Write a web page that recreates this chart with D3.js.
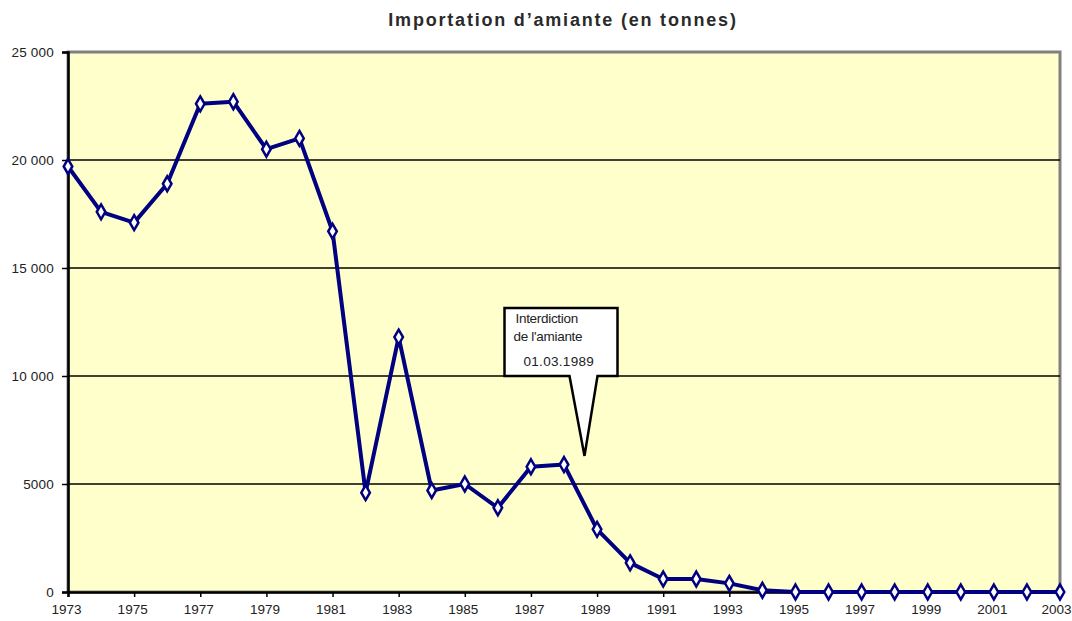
<!DOCTYPE html>
<html>
<head>
    <meta charset="utf-8" />
    <title>Importation d'amiante</title>
    <style>
        body { margin: 0; background: #fff; }
        text { font-family: "Liberation Sans", Arial, sans-serif; }
    </style>
</head>
<body>
    <div id="chart"></div>
    <script src="https://cdn.jsdelivr.net/npm/d3@7/dist/d3.min.js"></script>
    <script>
        // data
        var years = [1973, 1974, 1975, 1976, 1977, 1978, 1979, 1980, 1981, 1982,
            1983, 1984, 1985, 1986, 1987, 1988, 1989, 1990, 1991, 1992,
            1993, 1994, 1995, 1996, 1997, 1998, 1999, 2000, 2001, 2002, 2003];
        var tonnes = [19700, 17600, 17100, 18900, 22600, 22700, 20500, 21000, 16700, 4600,
            11800, 4700, 5000, 3900, 5800, 5900, 2900, 1350, 600, 600,
            400, 80, 0, 0, 0, 0, 0, 0, 0, 0, 0];
        var yTicks = [0, 5000, 10000, 15000, 20000, 25000];
        var yTickLabels = ["0", "5000", "10 000", "15 000", "20 000", "25 000"];
        var xTickYears = d3.range(1973, 2004, 2);
        var titleText = "Importation d\u2019amiante (en tonnes)";
        var noteLines = ["Interdiction", "de l'amiante", "01.03.1989"];
        var noteAt = { year: 1988.62, value: 6300, boxValue: 10000 };

        var W = 1072, H = 621;
        var margins = { left: 68, right: 12, top: 52, bottom: 29 };
        var width = W - margins.left - margins.right;
        var height = H - margins.top - margins.bottom;

        var svg = d3.select("#chart").append("svg")
            .attr("width", W).attr("height", H);

        svg.append("text")
            .attr("x", 563).attr("y", 26)
            .attr("text-anchor", "middle")
            .style("font-size", "18px")
            .style("font-weight", "bold")
            .style("letter-spacing", "1.8px")
            .attr("fill", "#2a2a2a")
            .text(titleText);

        var g = svg.append("g")
            .attr("transform", "translate(" + margins.left + "," + margins.top + ")");

        var x = d3.scaleLinear().domain([1973, 2003]).range([0, width]);
        var y = d3.scaleLinear().domain([0, 25000]).range([height, 0]);

        // plot area
        g.append("rect")
            .attr("width", width).attr("height", height)
            .attr("fill", "#FFFFCC")
            .attr("stroke", "#808080").attr("stroke-width", 3);

        // gridlines
        g.selectAll(".grid")
            .data(yTicks.slice(1, -1))
            .join("line")
            .attr("class", "grid")
            .attr("x1", 0).attr("x2", width)
            .attr("y1", d => y(d)).attr("y2", d => y(d))
            .attr("stroke", "#000").attr("stroke-width", 1.5);

        // y axis
        var yAxis = d3.axisLeft(y).tickValues(yTicks)
            .tickFormat((d, i) => yTickLabels[i]).tickSize(6).tickPadding(8);
        var ya = g.append("g").call(yAxis);
        ya.select(".domain").attr("stroke", "#000").attr("stroke-width", 2.5);
        ya.selectAll(".tick line").attr("stroke", "#000").attr("stroke-width", 1.5);
        ya.selectAll("text").style("font-size", "13.5px").attr("fill", "#222")
            .style("letter-spacing", "0.2px")
            .style("font-family", "'Liberation Sans', Arial, sans-serif");

        // x axis
        var xAxis = d3.axisBottom(x).tickValues(xTickYears)
            .tickFormat(d3.format("d")).tickSize(5).tickPadding(7);
        var xa = g.append("g").attr("transform", "translate(0," + height + ")").call(xAxis);
        xa.select(".domain").attr("stroke", "#000").attr("stroke-width", 2.5);
        xa.selectAll(".tick line").attr("stroke", "#000").attr("stroke-width", 1.5);
        xa.selectAll("text").style("font-size", "13.5px").attr("fill", "#222")
            .attr("dx", d => d === 2003 ? -4 : -2)
            .style("font-family", "'Liberation Sans', Arial, sans-serif");

        // callout
        var bx0 = x(noteAt.year) - 80, bx1 = x(noteAt.year) + 33;
        var by1 = y(noteAt.boxValue), by0 = by1 - 68;
        var tipX = x(noteAt.year), tipY = y(noteAt.value);
        var callout = [
            [bx0, by0], [bx1, by0], [bx1, by1], [tipX + 13, by1],
            [tipX, tipY], [tipX - 15, by1], [bx0, by1]
        ];
        g.append("path")
            .attr("d", d3.line()(callout) + "Z")
            .attr("fill", "#fff").attr("stroke", "#000").attr("stroke-width", 2.5)
            .attr("stroke-linejoin", "miter");
        var noteDx = [11, 9, 19], noteDy = [15, 33, 58];
        g.selectAll(".note")
            .data(noteLines)
            .join("text")
            .attr("class", "note")
            .attr("x", (d, i) => bx0 + noteDx[i])
            .attr("y", (d, i) => by0 + noteDy[i])
            .style("font-size", "13.5px")
            .style("letter-spacing", (d, i) => i === 2 ? "0.3px" : "-0.3px")
            .attr("fill", "#222")
            .text(d => d);

        // series
        var pts = years.map((yr, i) => ({ year: yr, v: tonnes[i] }));
        g.append("path")
            .datum(pts)
            .attr("fill", "none")
            .attr("stroke", "#000080")
            .attr("stroke-width", 4)
            .attr("stroke-linejoin", "round")
            .attr("d", d3.line().x(d => x(d.year)).y(d => y(d.v)));

        g.selectAll(".pt")
            .data(pts)
            .join("path")
            .attr("class", "pt")
            .attr("transform", d => "translate(" + x(d.year) + "," + y(d.v) + ")")
            .attr("d", d3.symbol().type(d3.symbolDiamond).size(64))
            .attr("fill", "#fff")
            .attr("stroke", "#000080")
            .attr("stroke-width", 2.5);
    </script>
</body>
</html>
